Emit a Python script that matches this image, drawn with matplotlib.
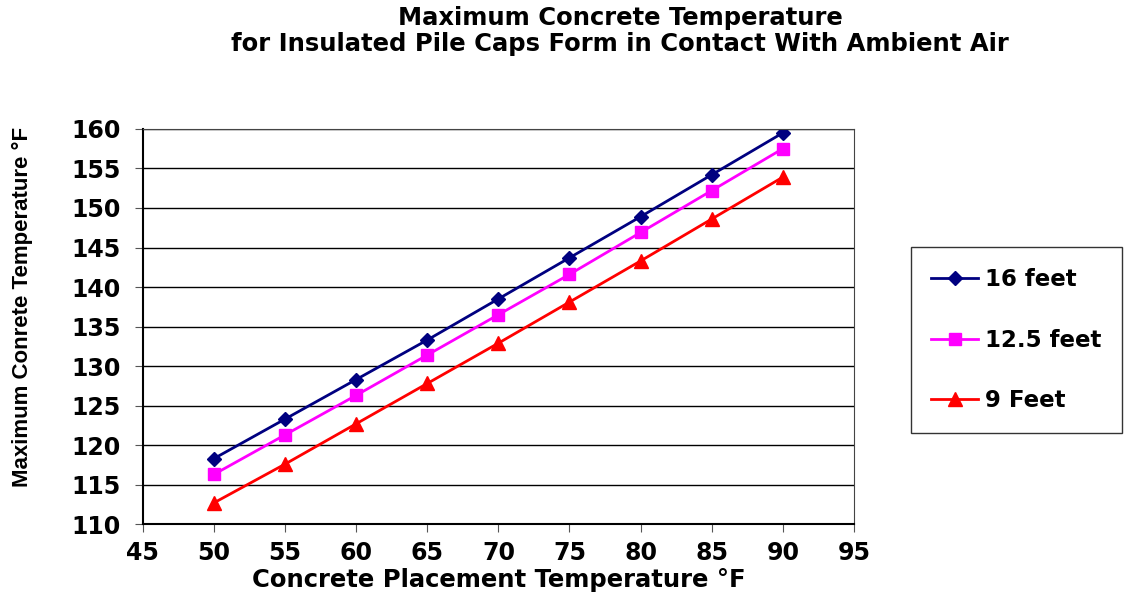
import matplotlib
matplotlib.use('Agg')
import matplotlib.pyplot as plt

placement = [50, 55, 60, 65, 70, 75, 80, 85, 90]
temp_16ft = [118.3, 123.3, 128.3, 133.3, 138.5, 143.7, 148.9, 154.2, 159.5]
temp_12_5ft = [116.3, 121.3, 126.3, 131.4, 136.5, 141.6, 146.9, 152.2, 157.5]
temp_9ft = [112.7, 117.6, 122.7, 127.8, 132.9, 138.1, 143.3, 148.6, 153.9]

plt.rcParams['font.family'] = ['DejaVu Sans']

fig = plt.figure(figsize=(11.25, 5.97), dpi=100)
ax = fig.add_axes([0.127, 0.122, 0.632, 0.662])

ax.plot(placement, temp_16ft, color='#000080', marker='D', markersize=7, linewidth=2, label='16 feet')
ax.plot(placement, temp_12_5ft, color='#ff00ff', marker='s', markersize=9, linewidth=2, label='12.5 feet')
ax.plot(placement, temp_9ft, color='#ff0000', marker='^', markersize=10, linewidth=2, label='9 Feet')

ax.set_xlim(45, 95)
ax.set_ylim(110, 160)
ax.set_xticks(range(45, 96, 5))
ax.set_yticks(range(110, 161, 5))
ax.yaxis.grid(True, color='black', linewidth=1)
ax.set_axisbelow(True)

for lab in ax.get_xticklabels() + ax.get_yticklabels():
    lab.set_fontsize(17)
    lab.set_fontweight('bold')
ax.tick_params(axis='both', direction='out', length=6, color='#555555')
ax.tick_params(axis='y', pad=10)
ax.tick_params(axis='x', pad=6)

ax.spines['left'].set_linewidth(1.5)
ax.spines['bottom'].set_linewidth(1.5)
for s in ['top', 'right']:
    ax.spines[s].set_color('#444444')

ax.set_xlabel('Concrete Placement Temperature °F', fontsize=17.5, fontweight='bold', labelpad=2)
ax.set_ylabel('Maximum Conrete Temperature °F', fontsize=16, fontweight='bold',
              family=['Liberation Sans Narrow', 'Liberation Sans'])
ax.yaxis.set_label_coords(-0.155, 0.55)

fig.text(0.551, 0.99, 'Maximum Concrete Temperature\nfor Insulated Pile Caps Form in Contact With Ambient Air',
         ha='center', va='top', fontsize=17.5, fontweight='bold', linespacing=1.12)

leg = ax.legend(loc='upper right', bbox_to_anchor=(0.9975, 0.586), bbox_transform=fig.transFigure,
                prop={'weight': 'bold', 'size': 16.5}, frameon=True, fancybox=False,
                edgecolor='black', labelspacing=1.65, handlelength=2.05, borderpad=0.9, handletextpad=0.3,
                borderaxespad=0)
leg.get_frame().set_linewidth(1)

fig.savefig('out.png', dpi=100)
